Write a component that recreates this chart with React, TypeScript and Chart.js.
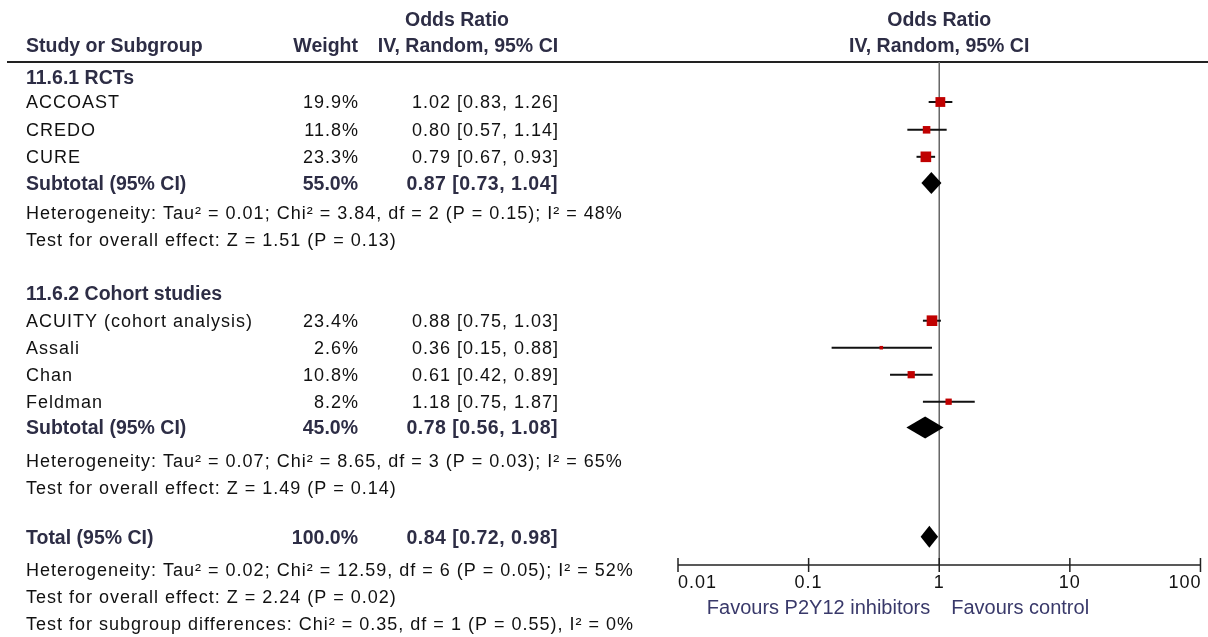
import React, { useEffect, useRef } from 'react';
import { Chart, registerables } from 'chart.js';

Chart.register(...registerables);

// ---------- data ----------
const studies = ['ACCOAST', 'CREDO', 'CURE', 'ACUITY (cohort analysis)', 'Assali', 'Chan', 'Feldman'];
const weights = [19.9, 11.8, 23.3, 23.4, 2.6, 10.8, 8.2];
const oddsRatio = [1.02, 0.8, 0.79, 0.88, 0.36, 0.61, 1.18];
const ciLow = [0.83, 0.57, 0.67, 0.75, 0.15, 0.42, 0.75];
const ciHigh = [1.26, 1.14, 0.93, 1.03, 0.88, 0.89, 1.87];

const pooledLabels = ['Subtotal (95% CI)', 'Subtotal (95% CI)', 'Total (95% CI)'];
const pooledWeights = [55.0, 45.0, 100.0];
const pooledOR = [0.87, 0.78, 0.84];
const pooledLow = [0.73, 0.56, 0.72];
const pooledHigh = [1.04, 1.08, 0.98];

const groupTitles = ['11.6.1 RCTs', '11.6.2 Cohort studies'];
const heterogeneity = [
  'Heterogeneity: Tau² = 0.01; Chi² = 3.84, df = 2 (P = 0.15); I² = 48%',
  'Heterogeneity: Tau² = 0.07; Chi² = 8.65, df = 3 (P = 0.03); I² = 65%',
  'Heterogeneity: Tau² = 0.02; Chi² = 12.59, df = 6 (P = 0.05); I² = 52%',
];
const overallEffect = [
  'Test for overall effect: Z = 1.51 (P = 0.13)',
  'Test for overall effect: Z = 1.49 (P = 0.14)',
  'Test for overall effect: Z = 2.24 (P = 0.02)',
];
const subgroupTest = 'Test for subgroup differences: Chi² = 0.35, df = 1 (P = 0.55), I² = 0%';

const xTicks = [0.01, 0.1, 1, 10, 100];
const xTickLabels = ['0.01', '0.1', '1', '10', '100'];
const favours = ['Favours P2Y12 inhibitors', 'Favours control'];

// ---------- row layout (y-scale units, one row ≈ one text line) ----------
const headerRows = [-2.06, -1.1];
const groupTitleRows = [0.08, 8.07];
const studyRows = [1, 2.03, 3.03, 9.1, 10.1, 11.1, 12.1];
const pooledRows = [4, 13.06, 17.1];
const hetRows = [5.11, 14.27, 18.3];
const effectRows = [6.11, 15.27, 19.3];
const subgroupRow = 20.3;

// ---------- style ----------
const BODY = '18px "Liberation Sans", Arial, sans-serif';
const BOLD = 'bold 19.5px "Liberation Sans", Arial, sans-serif';
const FAV = '20px "Liberation Sans", Arial, sans-serif';
const HEAD_COLOR = '#2d2d45';
const TEXT_COLOR = '#111111';
const FAV_COLOR = '#39396a';
const X_NAME = 26;
const X_WEIGHT = 358;
const X_CI = 558;
const X_HEADER_CI = 468;
const X_HEADER_OR = 457;

const fmt = (v: number) => v.toFixed(2);
const ciText = (o: number, l: number, h: number) => `${fmt(o)} [${fmt(l)}, ${fmt(h)}]`;

const forestPlugin = {
  id: 'forest',
  beforeDatasetsDraw(chart: any) {
    const { ctx, chartArea } = chart;
    const x = chart.scales.x;
    const y = chart.scales.y;
    const line = (x1: number, y1: number, x2: number, y2: number) => {
      ctx.beginPath();
      ctx.moveTo(x1, y1);
      ctx.lineTo(x2, y2);
      ctx.stroke();
    };
    ctx.save();
    // header rule
    ctx.strokeStyle = '#222';
    ctx.lineWidth = 2;
    line(7, chartArea.top, chart.width, chartArea.top);
    // line of no effect
    const x1 = x.getPixelForValue(1);
    ctx.strokeStyle = '#666';
    ctx.lineWidth = 1.5;
    line(x1, chartArea.top, x1, chartArea.bottom);
    // axis
    ctx.strokeStyle = '#222';
    ctx.lineWidth = 1.5;
    line(x.getPixelForValue(xTicks[0]), chartArea.bottom, x.getPixelForValue(xTicks[xTicks.length - 1]), chartArea.bottom);
    xTicks.forEach((t) => {
      const px = x.getPixelForValue(t);
      line(px, chartArea.bottom - 7, px, chartArea.bottom + 7);
    });
    // confidence intervals
    ctx.strokeStyle = '#111';
    ctx.lineWidth = 2;
    studies.forEach((_, i) => {
      const py = y.getPixelForValue(studyRows[i]);
      line(x.getPixelForValue(ciLow[i]), py, x.getPixelForValue(ciHigh[i]), py);
    });
    // diamonds
    ctx.fillStyle = '#000';
    pooledOR.forEach((o, i) => {
      const py = y.getPixelForValue(pooledRows[i]);
      const h = 11;
      ctx.beginPath();
      ctx.moveTo(x.getPixelForValue(pooledLow[i]), py);
      ctx.lineTo(x.getPixelForValue(o), py - h);
      ctx.lineTo(x.getPixelForValue(pooledHigh[i]), py);
      ctx.lineTo(x.getPixelForValue(o), py + h);
      ctx.closePath();
      ctx.fill();
    });
    ctx.restore();
  },
  afterDraw(chart: any) {
    const { ctx, chartArea } = chart;
    const x = chart.scales.x;
    const y = chart.scales.y;
    const ty = (r: number) => y.getPixelForValue(r) + 1.5;
    const text = (s: string, px: number, py: number, font: string, color: string, align: CanvasTextAlign, spacing: string) => {
      ctx.font = font;
      ctx.fillStyle = color;
      ctx.textAlign = align;
      (ctx as any).letterSpacing = spacing;
      ctx.fillText(s, px, py);
    };
    ctx.save();
    ctx.textBaseline = 'middle';
    // headers
    const xOne = x.getPixelForValue(1);
    text('Odds Ratio', X_HEADER_OR, ty(headerRows[0]), BOLD, HEAD_COLOR, 'center', '0px');
    text('Odds Ratio', xOne, ty(headerRows[0]), BOLD, HEAD_COLOR, 'center', '0px');
    text('Study or Subgroup', X_NAME, ty(headerRows[1]), BOLD, HEAD_COLOR, 'left', '0px');
    text('Weight', X_WEIGHT, ty(headerRows[1]), BOLD, HEAD_COLOR, 'right', '0px');
    text('IV, Random, 95% CI', X_HEADER_CI, ty(headerRows[1]), BOLD, HEAD_COLOR, 'center', '0px');
    text('IV, Random, 95% CI', xOne, ty(headerRows[1]), BOLD, HEAD_COLOR, 'center', '0px');
    // group titles
    groupTitles.forEach((g, i) => text(g, X_NAME, ty(groupTitleRows[i]), BOLD, HEAD_COLOR, 'left', '0px'));
    // studies
    studies.forEach((s, i) => {
      const py = ty(studyRows[i]);
      text(s, X_NAME, py, BODY, TEXT_COLOR, 'left', '1px');
      text(weights[i].toFixed(1) + '%', X_WEIGHT + 1, py, BODY, TEXT_COLOR, 'right', '1px');
      text(ciText(oddsRatio[i], ciLow[i], ciHigh[i]), X_CI + 1, py, BODY, TEXT_COLOR, 'right', '1px');
    });
    // pooled rows
    pooledLabels.forEach((p, i) => {
      const py = ty(pooledRows[i]);
      text(p, X_NAME, py, BOLD, HEAD_COLOR, 'left', '0px');
      text(pooledWeights[i].toFixed(1) + '%', X_WEIGHT, py, BOLD, HEAD_COLOR, 'right', '0px');
      text(ciText(pooledOR[i], pooledLow[i], pooledHigh[i]), X_CI, py, BOLD, HEAD_COLOR, 'right', '0.5px');
    });
    heterogeneity.forEach((h, i) => text(h, X_NAME, ty(hetRows[i]), BODY, TEXT_COLOR, 'left', '1px'));
    overallEffect.forEach((h, i) => text(h, X_NAME, ty(effectRows[i]), BODY, TEXT_COLOR, 'left', '1px'));
    text(subgroupTest, X_NAME, ty(subgroupRow), BODY, TEXT_COLOR, 'left', '1px');
    // axis tick labels
    xTicks.forEach((t, i) => {
      const px = x.getPixelForValue(t);
      const align: CanvasTextAlign = i === 0 ? 'left' : i === xTicks.length - 1 ? 'right' : 'center';
      text(xTickLabels[i], px + (i === xTicks.length - 1 ? 1 : 0), chartArea.bottom + 18, BODY, TEXT_COLOR, align, i === xTicks.length - 1 ? '1px' : '1px');
    });
    text(favours[0], xOne - 9, chartArea.bottom + 43, FAV, FAV_COLOR, 'right', '0px');
    text(favours[1], xOne + 12, chartArea.bottom + 43, FAV, FAV_COLOR, 'left', '0px');
    ctx.restore();
  },
};

export default function App() {
  const canvasRef = useRef<HTMLCanvasElement | null>(null);

  useEffect(() => {
    const canvas = canvasRef.current;
    if (!canvas) return;
    const chart = new Chart(canvas, {
      type: 'scatter',
      data: {
        datasets: [
          {
            data: studies.map((_, i) => ({ x: oddsRatio[i], y: studyRows[i] })),
            pointStyle: 'rect',
            backgroundColor: '#c00000',
            borderWidth: 0,
            pointRadius: (c: any) => (2.2 * Math.sqrt(weights[c.dataIndex] ?? 0)) / Math.SQRT2,
            pointHoverRadius: (c: any) => (2.2 * Math.sqrt(weights[c.dataIndex] ?? 0)) / Math.SQRT2,
            clip: false as any,
          } as any,
        ],
      },
      options: {
        animation: false,
        responsive: false,
        maintainAspectRatio: false,
        events: [],
        layout: { padding: { left: 678, right: 7, top: 62, bottom: 72 } },
        scales: {
          x: { type: 'logarithmic', min: 0.01, max: 100, display: false },
          y: { type: 'linear', min: -0.4815, max: 18.148, reverse: true, display: false },
        },
        plugins: { legend: { display: false }, tooltip: { enabled: false } },
      },
      plugins: [forestPlugin as any],
    });
    return () => chart.destroy();
  }, []);

  return (
    <div style={{ position: 'absolute', left: 0, top: 0, width: 1208, height: 637, background: '#fff' }}>
      <canvas ref={canvasRef} width={1208} height={637} style={{ display: 'block' }} />
    </div>
  );
}
